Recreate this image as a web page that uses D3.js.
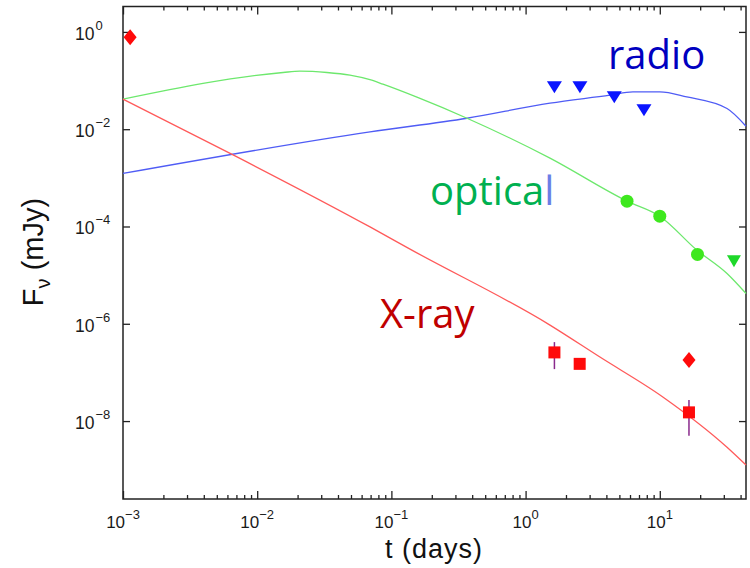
<!DOCTYPE html>
<html>
<head>
<meta charset="utf-8">
<script src="https://cdn.jsdelivr.net/npm/d3@7"></script>
<style>
  body { margin: 0; background: #fff; }
</style>
</head>
<body>
<div id="chart"></div>
<script>
// model light curves (t in days, flux in mJy)
const xrayModelT = [0.001, 0.00684, 0.0693, 0.142, 1.52, 3.58, 10.6, 31.7, 43.9];
const xrayModelF = [0.0414, 2.83e-3, 9.8e-5, 3.27e-5, 9.4e-7, 2.07e-7, 3.1e-8, 2.9e-9, 1.25e-9];

const optModelT = [0.001, 0.0156, 0.0208, 0.0331, 0.0491, 0.0692, 0.0865, 0.155, 0.366, 1.52, 5.7, 10.0, 18.9, 31.7, 43.9];
const optModelF = [0.0414, 0.1465, 0.156, 0.1465, 0.129, 0.104, 0.0841, 0.0455, 0.0168, 2.54e-3, 3.32e-4, 1.63e-4, 3.27e-5, 1.08e-5, 4.2e-6];

const radioModelT = [0.001, 0.0693, 0.366, 1.52, 4.26, 6.31, 10.0, 15.9, 31.7, 43.9];
const radioModelF = [1.23e-3, 8.81e-3, 0.0168, 0.0343, 0.05, 0.0585, 0.0585, 0.0461, 0.0267, 0.01153];

// observations
const radioLimT = [1.64, 2.54, 4.58, 7.62];
const radioLimF = [0.073, 0.073, 0.0455, 0.0246];

const optT = [5.7, 10.0, 19.1];
const optF = [3.32e-4, 1.63e-4, 2.66e-5];
const optLimT = [35.7];
const optLimF = [1.94e-5];

const xrayT = [1.64, 2.53, 16.5];
const xrayF = [2.58e-7, 1.5e-7, 1.51e-8];
const xrayLo = [1.17e-7, null, 4.98e-9];
const xrayHi = [4.2e-7, null, 2.7e-8];

const diamondT = [1.13e-3, 16.5];
const diamondF = [0.778, 1.79e-7];

const xMajor = [1e-3, 1e-2, 1e-1, 1, 10];
const yMajor = [1, 1e-2, 1e-4, 1e-6, 1e-8];
const xExp = ['\u22123', '\u22122', '\u22121', '0', '1'];
const yExp = ['0', '\u22122', '\u22124', '\u22126', '\u22128'];

const width = 750;
const height = 568;
const margin = { top: 6.5, right: 4, bottom: 69, left: 123 };

const svg = d3.select('#chart')
  .append('svg')
  .attr('width', width)
  .attr('height', height)
  .style('font-family', '"Liberation Sans", Arial, sans-serif');

const x = d3.scaleLog()
  .domain([1e-3, 43.9])
  .range([margin.left, width - margin.right]);

const y = d3.scaleLog()
  .domain([2.5e-10, 3.33])
  .range([height - margin.bottom, margin.top]);

const xMinor = [];
for (let e = -3; e <= 1; e++) {
  for (let m = 2; m <= 9; m++) {
    const v = m * Math.pow(10, e);
    if (v < x.domain()[1]) xMinor.push(v);
  }
}

const axisColor = '#222';

function styleAxis(g) {
  g.select('.domain').remove();
  g.selectAll('line').attr('stroke', axisColor).attr('stroke-width', 1.3);
  g.selectAll('text').remove();
}

// ticks, pointing inward on all four sides
svg.append('g')
  .attr('transform', `translate(0,${y.range()[0]})`)
  .call(d3.axisBottom(x).tickValues(xMajor).tickSize(-8).tickSizeOuter(0))
  .call(styleAxis);
svg.append('g')
  .attr('transform', `translate(0,${y.range()[0]})`)
  .call(d3.axisBottom(x).tickValues(xMinor).tickSize(-4).tickSizeOuter(0))
  .call(styleAxis);
svg.append('g')
  .attr('transform', `translate(0,${y.range()[1]})`)
  .call(d3.axisTop(x).tickValues(xMajor).tickSize(-8).tickSizeOuter(0))
  .call(styleAxis);
svg.append('g')
  .attr('transform', `translate(0,${y.range()[1]})`)
  .call(d3.axisTop(x).tickValues(xMinor).tickSize(-4).tickSizeOuter(0))
  .call(styleAxis);
svg.append('g')
  .attr('transform', `translate(${x.range()[0]},0)`)
  .call(d3.axisLeft(y).tickValues(yMajor).tickSize(-7).tickSizeOuter(0))
  .call(styleAxis);
svg.append('g')
  .attr('transform', `translate(${x.range()[1]},0)`)
  .call(d3.axisRight(y).tickValues(yMajor).tickSize(-7).tickSizeOuter(0))
  .call(styleAxis);

// frame
svg.append('rect')
  .attr('x', x.range()[0])
  .attr('y', y.range()[1])
  .attr('width', x.range()[1] - x.range()[0])
  .attr('height', y.range()[0] - y.range()[1])
  .attr('fill', 'none')
  .attr('stroke', axisColor)
  .attr('stroke-width', 1.5);

// tick labels: 10 with superscript exponent
const xLab = svg.append('g')
  .selectAll('text')
  .data(xMajor)
  .join('text')
  .attr('x', d => x(d))
  .attr('y', y.range()[0] + 29)
  .attr('text-anchor', 'middle')
  .attr('font-size', 17)
  .attr('fill', '#1a1a1a');
xLab.append('tspan').text('10');
xLab.append('tspan').attr('dy', -9).attr('font-size', 13).text((d, i) => xExp[i]);

const yLab = svg.append('g')
  .selectAll('text')
  .data(yMajor)
  .join('text')
  .attr('x', 75)
  .attr('y', d => y(d) + 8)
  .attr('font-size', 17.5)
  .attr('fill', '#1a1a1a');
yLab.append('tspan').text('10');
yLab.append('tspan').attr('dx', 1).attr('dy', -10).attr('font-size', 13).text((d, i) => yExp[i]);

// axis titles
svg.append('text')
  .attr('x', 434)
  .attr('y', 558)
  .attr('text-anchor', 'middle')
  .attr('font-size', 27)
  .attr('letter-spacing', 1)
  .attr('fill', '#111')
  .text('t (days)');

const yTitle = svg.append('text')
  .attr('transform', 'translate(43,252) rotate(-90)')
  .attr('text-anchor', 'middle')
  .attr('font-size', 29)
  .attr('fill', '#111');
yTitle.append('tspan').text('F');
yTitle.append('tspan').attr('dy', 7).attr('font-size', 20).text('\u03bd');
yTitle.append('tspan').attr('dy', -7).text(' (mJy)');

// model curves
const line = d3.line()
  .x(d => x(d[0]))
  .y(d => y(d[1]))
  .curve(d3.curveMonotoneX);

const plot = svg.append('g');

function addModel(ts, fs, color) {
  plot.append('path')
    .datum(d3.zip(ts, fs))
    .attr('d', line)
    .attr('fill', 'none')
    .attr('stroke', color)
    .attr('stroke-width', 1.3);
}
addModel(radioModelT, radioModelF, '#4f5cf5');
addModel(optModelT, optModelF, '#6de86d');
addModel(xrayModelT, xrayModelF, '#ff5a5a');

// markers
function triDown(w, h) {
  return `M${-w / 2},${-h / 2}L${w / 2},${-h / 2}L0,${h / 2}Z`;
}
function diamond(w, h) {
  return `M0,${-h / 2}L${w / 2},0L0,${h / 2}L${-w / 2},0Z`;
}

plot.append('g')
  .selectAll('path')
  .data(d3.zip(radioLimT, radioLimF))
  .join('path')
  .attr('transform', d => `translate(${x(d[0])},${y(d[1])})`)
  .attr('d', triDown(15, 12))
  .attr('fill', '#0a14ff');

plot.append('g')
  .selectAll('circle')
  .data(d3.zip(optT, optF))
  .join('circle')
  .attr('cx', d => x(d[0]))
  .attr('cy', d => y(d[1]))
  .attr('r', 6.5)
  .attr('fill', '#3ee81e');

plot.append('g')
  .selectAll('path')
  .data(d3.zip(optLimT, optLimF))
  .join('path')
  .attr('transform', d => `translate(${x(d[0])},${y(d[1])})`)
  .attr('d', triDown(14, 12))
  .attr('fill', '#1ed82a');

const xr = d3.zip(xrayT, xrayF, xrayLo, xrayHi);
plot.append('g')
  .selectAll('line')
  .data(xr.filter(d => d[2] != null))
  .join('line')
  .attr('x1', d => x(d[0]))
  .attr('x2', d => x(d[0]))
  .attr('y1', d => y(d[2]))
  .attr('y2', d => y(d[3]))
  .attr('stroke', '#8a2a8c')
  .attr('stroke-width', 1.5);

plot.append('g')
  .selectAll('rect')
  .data(xr)
  .join('rect')
  .attr('x', d => x(d[0]) - 6)
  .attr('y', d => y(d[1]) - 6)
  .attr('width', 12)
  .attr('height', 12)
  .attr('fill', '#ff0a0a');

plot.append('g')
  .selectAll('path')
  .data(d3.zip(diamondT, diamondF))
  .join('path')
  .attr('transform', d => `translate(${x(d[0])},${y(d[1])})`)
  .attr('d', diamond(13, 16))
  .attr('fill', '#ff0a0a');

// band labels
const ann = svg.append('g')
  .style('font-family', '"Open Sans", "Noto Sans", sans-serif')
  .attr('font-size', 40);

ann.append('text')
  .attr('x', 608)
  .attr('y', 69)
  .attr('fill', '#0000c0')
  .text('radio');

const opt = ann.append('text')
  .attr('x', 430)
  .attr('y', 205)
  .attr('fill', '#00b050');
opt.append('tspan').text('optica');
opt.append('tspan').attr('fill', '#6a7ee6').text('l');

ann.append('text')
  .attr('x', 380)
  .attr('y', 328)
  .attr('fill', '#c00000')
  .text('X-ray');
</script>
</body>
</html>
